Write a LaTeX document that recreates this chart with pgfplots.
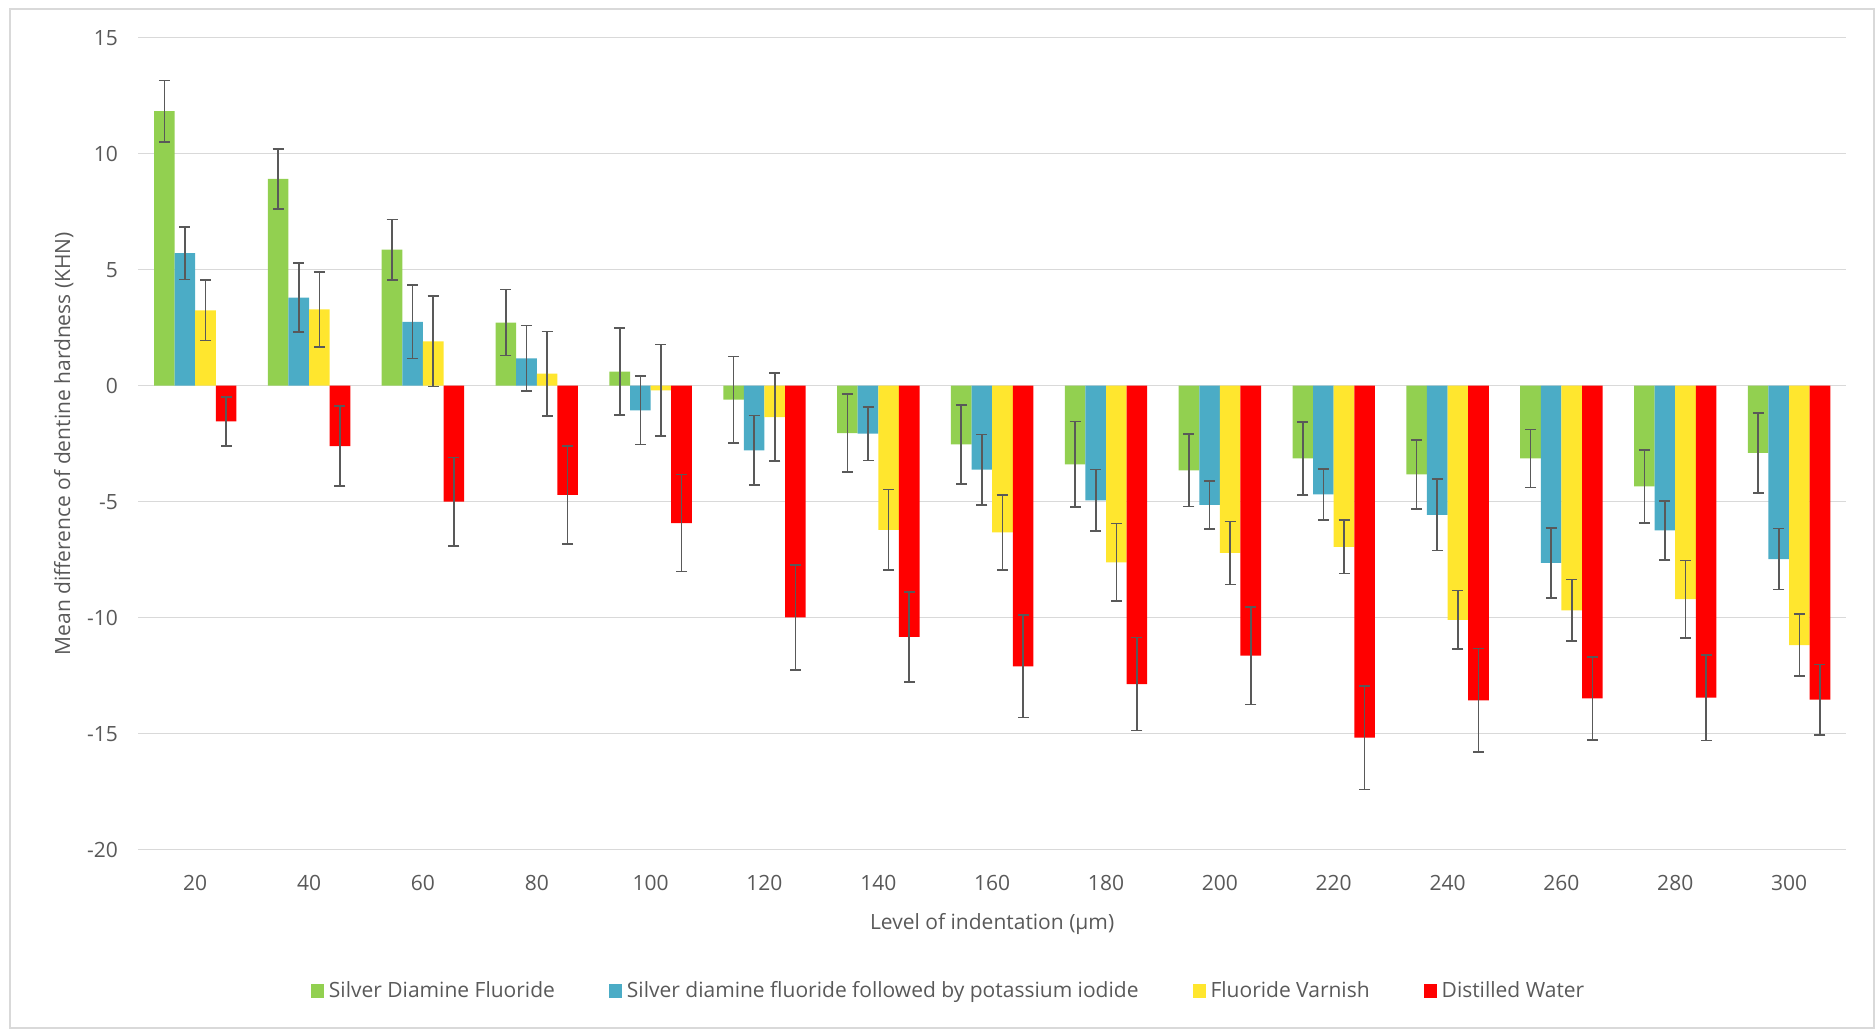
\documentclass[border=0pt]{standalone}
\usepackage{pgfplots}
\pgfplotsset{compat=1.18}
\usepackage{fontspec}
\setmainfont{Open Sans}
\definecolor{sdf}{HTML}{92D050}
\definecolor{sdfki}{HTML}{4BACC6}
\definecolor{fv}{HTML}{FFE62E}
\definecolor{dw}{HTML}{FF0000}
\definecolor{txt}{HTML}{595959}
\definecolor{gridc}{HTML}{D9D9D9}
\newcommand\cf{\fontsize{10.5bp}{12.6bp}\selectfont}

\pgfplotstableread{
x y e
0 11.83 1.33
1 8.91 1.29
2 5.86 1.31
3 2.72 1.42
4 0.61 1.88
5 -0.60 1.86
6 -2.04 1.69
7 -2.53 1.71
8 -3.39 1.85
9 -3.65 1.56
10 -3.13 1.57
11 -3.82 1.49
12 -3.13 1.25
13 -4.34 1.58
14 -2.90 1.72
}\tsdf
\pgfplotstableread{
x y e
0 5.71 1.13
1 3.80 1.48
2 2.75 1.58
3 1.18 1.42
4 -1.06 1.48
5 -2.79 1.50
6 -2.07 1.16
7 -3.62 1.52
8 -4.94 1.33
9 -5.14 1.04
10 -4.68 1.10
11 -5.57 1.54
12 -7.64 1.50
13 -6.24 1.28
14 -7.47 1.32
}\tsdfki
\pgfplotstableread{
x y e
0 3.25 1.30
1 3.29 1.62
2 1.91 1.95
3 0.52 1.82
4 -0.20 1.97
5 -1.35 1.90
6 -6.21 1.73
7 -6.32 1.62
8 -7.61 1.67
9 -7.21 1.36
10 -6.95 1.15
11 -10.09 1.26
12 -9.68 1.32
13 -9.20 1.67
14 -11.18 1.34
}\tfv
\pgfplotstableread{
x y e
0 -1.54 1.05
1 -2.60 1.72
2 -5.00 1.91
3 -4.71 2.12
4 -5.92 2.09
5 -9.99 2.27
6 -10.83 1.95
7 -12.10 2.21
8 -12.86 2.00
9 -11.64 2.10
10 -15.17 2.23
11 -13.56 2.23
12 -13.48 1.78
13 -13.45 1.84
14 -13.53 1.52
}\tdw

\begin{document}
\begin{tikzpicture}
\path[use as bounding box] (0,0) rectangle (938bp,514.5bp);
\draw[gridc, line width=0.75bp] (5bp,0.5bp) rectangle (937bp,510bp);
\begin{axis}[
  at={(69.15bp,89.65bp)}, anchor=south west,
  scale only axis, width=853.85bp, height=406bp,
  xmin=-0.5, xmax=14.5, ymin=-20, ymax=15,
  ybar=0pt, bar width=10.3bp,
  axis line style={draw=none},
  major tick length=0pt,
  xtick={0,...,14},
  xticklabels={20,40,60,80,100,120,140,160,180,200,220,240,260,280,300},
  ytick={-20,-15,...,15},
  yticklabels={-20,-15,-10,-5,0,5,10,15},
  ymajorgrids, major grid style={draw=gridc, line width=0.75bp},
  tick label style={font=\cf, text=txt, inner sep=0pt},
  xticklabel style={anchor=north, yshift=-12.5bp},
  yticklabel style={anchor=east, xshift=-10bp},
  xlabel={Level of indentation (µm)},
  ylabel={Mean difference of dentine hardness (KHN)},
  label style={font=\cf, text=txt},
  xlabel style={at={(axis description cs:0.5,-0.0979)}, anchor=base},
  ylabel style={at={(axis description cs:-0.04,0.5)}, anchor=base},
  legend columns=4,
  legend style={draw=none, fill=none, at={(axis description cs:0.4739,-0.174)}, anchor=center,
    font=\cf, text=txt, nodes={inner sep=0pt},
    /tikz/every even column/.append style={column sep=27bp},
    /tikz/every odd column/.append style={column sep=2.5bp}},
  legend image code/.code={\fill[#1] (0bp,-3.5bp) rectangle (6.5bp,3.5bp);},
  error bars/y dir=both, error bars/y explicit,
  error bars/error mark=-,
  error bars/error bar style={line width=0.8bp, draw=txt},
  error bars/error mark options={rotate=90, draw=txt, line width=0.8bp, mark size=2.75bp},
]
\addplot[fill=sdf, draw=none] table[x=x, y=y, y error=e] {\tsdf};
\addlegendentry{Silver Diamine Fluoride}
\addplot[fill=sdfki, draw=none] table[x=x, y=y, y error=e] {\tsdfki};
\addlegendentry{Silver diamine fluoride followed by potassium iodide}
\addplot[fill=fv, draw=none] table[x=x, y=y, y error=e] {\tfv};
\addlegendentry{Fluoride Varnish}
\addplot[fill=dw, draw=none] table[x=x, y=y, y error=e] {\tdw};
\addlegendentry{Distilled Water}
\end{axis}
\end{tikzpicture}
\end{document}
